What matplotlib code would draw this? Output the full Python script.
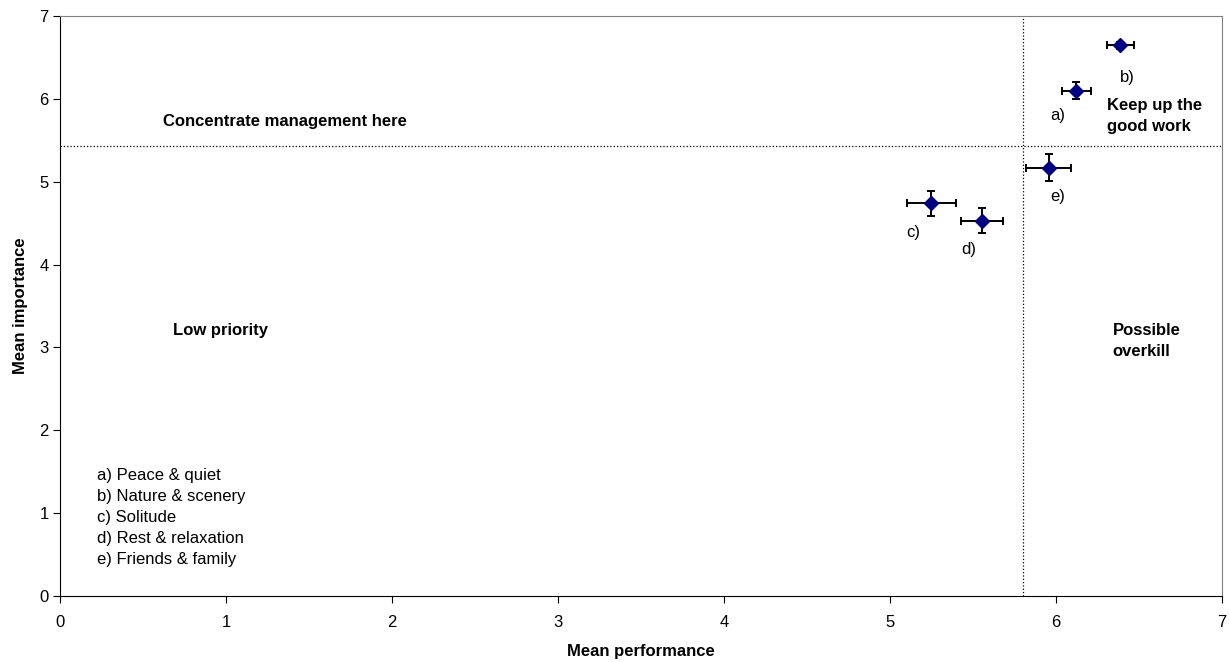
import matplotlib.pyplot as plt

plt.rcParams['font.family'] = ['Liberation Sans', 'DejaVu Sans']

# data
labels = ["a)", "b)", "c)", "d)", "e)"]
names = ["Peace & quiet", "Nature & scenery", "Solitude", "Rest & relaxation", "Friends & family"]
performance = [6.125, 6.39, 5.25, 5.556, 5.958]
importance = [6.10, 6.646, 4.74, 4.53, 5.17]
perf_err = [0.09, 0.083, 0.149, 0.125, 0.135]
imp_err = [0.10, 0.044, 0.153, 0.153, 0.163]
mean_perf = 5.80
mean_imp = 5.43

# label offsets (data units) for the point labels
label_pos = {"a)": (-0.112, -0.295), "b)": (0.044, -0.386), "c)": (-0.111, -0.355),
             "d)": (-0.08, -0.342), "e)": (0.056, -0.351)}

fig = plt.figure(figsize=(12.29, 6.62), dpi=100)
ax = fig.add_axes([0.0492, 0.0997, 0.9448, 0.8761])

ax.errorbar(performance, importance, xerr=perf_err, yerr=imp_err, fmt='D',
            color='navy', markersize=7, ecolor='black', elinewidth=1.4,
            capsize=3, capthick=1.4, zorder=3)

ax.axvline(mean_perf, color='black', linestyle=':', linewidth=0.9)
ax.axhline(mean_imp, color='black', linestyle=':', linewidth=0.9)

for lab, x, y in zip(labels, performance, importance):
    dx, dy = label_pos[lab]
    ax.text(x + dx, y + dy, lab, fontsize=12, ha='center', va='center')

ax.text(0.616, 5.724, "Concentrate management here", fontsize=12, fontweight='bold', va='center')
ax.text(0.676, 3.21, "Low priority", fontsize=12, fontweight='bold', va='center')
ax.text(6.306, 5.794, "Keep up the\ngood work", fontsize=12, fontweight='bold', va='center',
        linespacing=1.5)
ax.text(6.342, 3.075, "Possible\noverkill", fontsize=12, fontweight='bold', va='center',
        linespacing=1.5)

key = "\n".join(f"{l} {n}" for l, n in zip(labels, names))
ax.text(0.22, 1.545, key, fontsize=12, va='top', linespacing=1.5)

ax.set_xlim(0, 7)
ax.set_ylim(0, 7)
ax.set_xticks(range(0, 8))
ax.set_yticks(range(0, 8))
ax.tick_params(labelsize=12, direction='out', length=5)
ax.tick_params(axis='x', pad=8.5)
ax.set_xlabel("Mean performance", fontsize=12, fontweight='bold', labelpad=10)
ax.set_ylabel("Mean importance", fontsize=12, fontweight='bold', labelpad=8)
for s in ['top', 'right']:
    ax.spines[s].set_color('gray')

plt.savefig("out.png", dpi=100)
